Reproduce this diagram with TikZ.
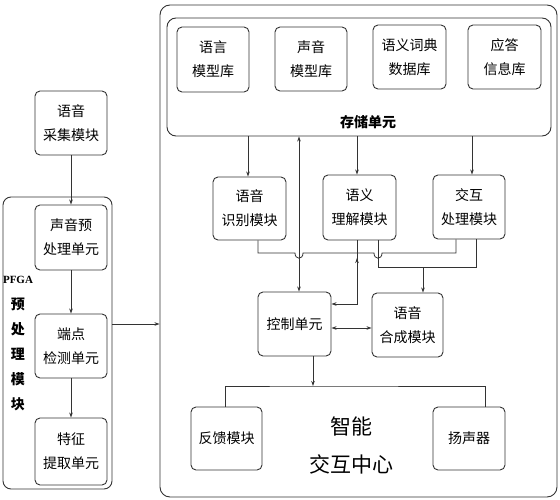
\documentclass[tikz,border=0pt]{standalone}
\usepackage{fontspec}
\newfontfamily\cjk{Noto Sans CJK SC}
\newfontfamily\pfgafont{Liberation Serif}
\usetikzlibrary{arrows.meta}
\begin{document}
\begin{tikzpicture}[x=1pt,y=-1pt,
  box/.style={draw=black!80, line width=0.9pt, rounded corners=5pt, align=center,
    font=\cjk\fontsize{14}{24}\selectfont, inner sep=0pt},
  frame/.style={draw=black!80, line width=0.9pt},
  ln/.style={draw=black!80, line width=0.8pt},
  arr/.style={ln, -{Stealth[length=5pt,width=3.5pt]}},
  darr/.style={ln, {Stealth[length=5pt,width=3.5pt]}-{Stealth[length=5pt,width=3.5pt]}}]
\useasboundingbox (0,0) rectangle (560,500);
% outer frames
\node[frame, rounded corners=10pt, minimum width=397, minimum height=492] (main) at (358.5,251) {};
\node[frame, rounded corners=8pt, minimum width=109, minimum height=292] (pf) at (57.5,343) {};
\node[frame, rounded corners=9pt, minimum width=384, minimum height=118] (store) at (359,77) {};
% left column
\node[box, minimum width=72, minimum height=64] (cj) at (71,123) {语音\\采集模块};
\node[box, minimum width=72, minimum height=65] (ysy) at (71,237.5) {声音预\\处理单元};
\node[box, minimum width=72, minimum height=64] (dd) at (71,346) {端点\\检测单元};
\node[box, minimum width=72, minimum height=67] (tz) at (71,451.5) {特征\\提取单元};
\node[align=center, font=\cjk\bfseries\fontsize{14}{25.2}\selectfont] (pfl) at (18,344)
  {{\pfgafont\bfseries\fontsize{11}{12}\selectfont PFGA}\\预\\处\\理\\模\\块};
% storage
\node[box, minimum width=72, minimum height=65] (yymx) at (213,59.5) {语言\\模型库};
\node[box, minimum width=72, minimum height=64] (symx) at (311,59) {声音\\模型库};
\node[box, minimum width=73, minimum height=64] (yycd) at (409.5,57) {语义词典\\数据库};
\node[box, minimum width=73, minimum height=64] (ydxx) at (504.5,57) {应答\\信息库};
\node[font=\cjk\bfseries\fontsize{14}{16}\selectfont] (cclabel) at (368,122) {存储单元};
% middle row
\node[box, minimum width=73, minimum height=63] (sb) at (249.5,208.5) {语音\\识别模块};
\node[box, minimum width=73, minimum height=65] (lj) at (359.5,207.5) {语义\\理解模块};
\node[box, minimum width=72, minimum height=64] (jh) at (469,207) {交互\\处理模块};
\node[box, minimum width=73, minimum height=64] (kz) at (294.5,324) {控制单元};
\node[box, minimum width=71, minimum height=64] (hc) at (407.5,325) {语音\\合成模块};
% bottom
\node[box, minimum width=71, minimum height=63] (fk) at (226.5,438.5) {反馈模块};
\node[box, minimum width=72, minimum height=63] (ysq) at (469,438.5) {扬声器};
\node[align=center, font=\cjk\fontsize{21}{38}\selectfont] (zn) at (351,446) {智能\\交互中心};
% coordinates
\coordinate (c1) at (357,304);
\coordinate (c2) at (423,267);
\coordinate (c3) at (0,328);
\coordinate (c4) at (313,386);
% left connectors
\draw[arr] (cj) -- (ysy);
\draw[arr] (ysy) -- (dd);
\draw[arr] (dd) -- (tz);
\draw[arr] (pf.east |- kz) -- (main.west |- kz);
% storage connectors
\draw[arr] ([xshift=-1.5pt]sb.north |- store.south) -- ([xshift=-1.5pt]sb.north);
\draw[arr] ([xshift=-2.5pt]lj.north |- store.south) -- ([xshift=-2.5pt]lj.north);
\draw[arr] ([xshift=3pt]jh.north |- store.south) -- ([xshift=3pt]jh.north);
\draw[darr] ([xshift=4.5pt]kz.north) -- ([xshift=4.5pt]kz.north |- store.south);
% bus from recognition / interaction
\draw[ln] ([xshift=8.5pt]sb.south) -- (258,253) -- (295,253)
  .. controls (295,260) and (303,260) .. (303,253) -- (374,253)
  .. controls (374,260) and (382,260) .. (382,253) -- (456,253) -- ([xshift=-13pt]jh.south);
% semantic to control
\draw[arr] ([xshift=-2.5pt]lj.south) -- (c1) -- (kz.east |- c1);
\draw[arr] (357,266) -- (357,258);
% semantic / interaction to synthesis
\draw[ln] ([xshift=18.5pt]lj.south) -- (378,267) -- (476,267) -- ([xshift=7pt]jh.south);
\draw[arr] (c2) -- (c2 |- hc.north);
\draw[darr] (kz.east |- c3) -- (hc.west |- c3);
% control to outputs
\draw[arr] (c4 |- kz.south) -- (c4);
\draw[ln] ([xshift=-1.5pt]fk.north) |- (c4) -| ([xshift=16pt]ysq.north);
\end{tikzpicture}
\end{document}
